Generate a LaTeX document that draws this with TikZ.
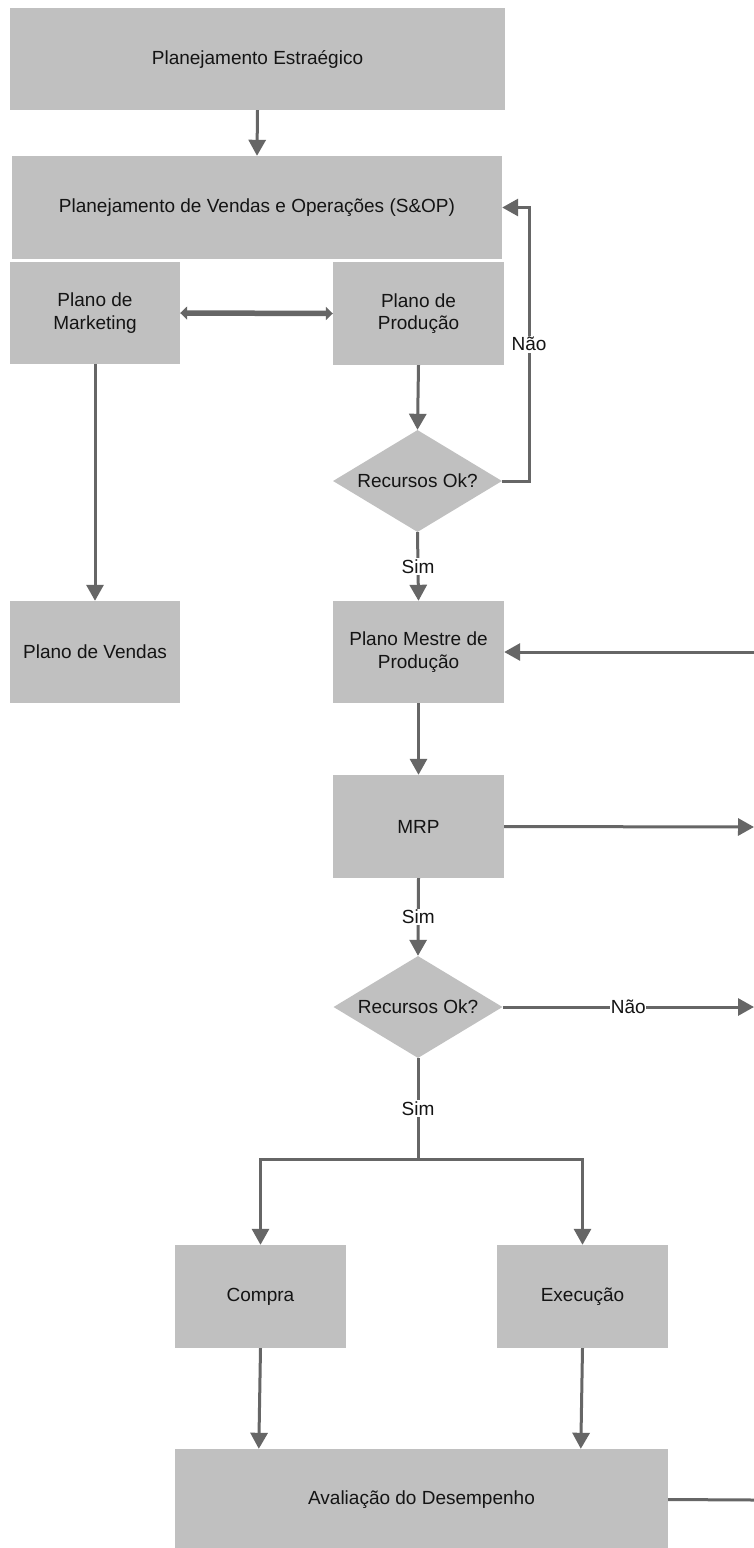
\documentclass[tikz,border=0pt]{standalone}
\usepackage{fontspec}
\setmainfont{Liberation Sans}
\usetikzlibrary{arrows.meta,shapes.geometric,calc}
\definecolor{boxgray}{HTML}{C0C0C0}
\definecolor{linegray}{HTML}{666666}
\definecolor{ink}{HTML}{141414}
\tikzset{
  stepbox/.style={rectangle, fill=boxgray, draw=none, inner sep=0pt, align=center,
    text=ink, font=\fontsize{19}{22.5}\selectfont},
  decision/.style={diamond, fill=boxgray, draw=none, inner sep=0pt, aspect=1.657,
    minimum width=169pt, minimum height=102pt, text=ink, font=\fontsize{19}{22}\selectfont},
  flow/.style={draw=linegray, line width=3pt, -{Triangle[length=16pt,width=17pt]}},
  plain/.style={draw=linegray, line width=3pt},
  both/.style={draw=linegray, line width=5.5pt,
    {Triangle[length=7pt,width=13pt]}-{Triangle[length=7pt,width=13pt]}},
  tag/.style={fill=white, inner sep=1.5pt, text=ink, font=\fontsize{19}{22}\selectfont}
}
\begin{document}
\begin{tikzpicture}[x=1pt,y=-1pt]
  \useasboundingbox (0,0) rectangle (754,1548);
  \fill[white] (0,0) rectangle (754,1548);

  % process steps
  \node[stepbox, minimum width=495pt, minimum height=102pt] (estr) at (257.5,59) {Planejamento Estraégico};
  \node[stepbox, minimum width=490pt, minimum height=103pt] (sop) at (257,207.5) {Planejamento de Vendas e Operações (S\&OP)};
  \node[stepbox, minimum width=170pt, minimum height=102pt] (mkt) at (95,313) {Plano de\\Marketing};
  \node[stepbox, minimum width=171pt, minimum height=103pt] (prod) at (418.5,313.5) {Plano de\\Produção};
  \node[decision] (rec1) at (417.5,481) {Recursos Ok?};
  \node[stepbox, minimum width=170pt, minimum height=102pt] (vendas) at (95,652) {Plano de Vendas};
  \node[stepbox, minimum width=171pt, minimum height=102pt] (mestre) at (418.5,652) {Plano Mestre de\\Produção};
  \node[stepbox, minimum width=171pt, minimum height=103pt] (mrp) at (418.5,826.5) {MRP};
  \node[decision] (rec2) at (418,1007) {Recursos Ok?};
  \node[stepbox, minimum width=171pt, minimum height=103pt] (compra) at (260.5,1296.5) {Compra};
  \node[stepbox, minimum width=171pt, minimum height=103pt] (exec) at (582.5,1296.5) {Execução};
  \node[stepbox, minimum width=493pt, minimum height=101pt] (aval) at (421.5,1499.5) {Avaliação do Desempenho};

  % free ends at the right margin
  \coordinate (inMestre) at (754,652);
  \coordinate (outMrp) at (754,827);
  \coordinate (outRec) at (754,1007);
  \coordinate (outAval) at (754,1500);
  \coordinate (loopX) at (529,481);
  \coordinate (split) at (418,1159);

  % connectors
  \draw[flow] (estr.south) -- (sop.north);
  \draw[both] (mkt.east) -- (prod.west);
  \draw[flow] (prod.south) -- (rec1.north);
  \draw[flow] (rec1.east) -- (loopX) |- node[tag, pos=0.25] {Não} (sop.east);
  \draw[flow] (rec1.south) -- node[tag] {Sim} (mestre.north);
  \draw[flow] (mkt.south) -- (vendas.north);
  \draw[flow] (inMestre) -- (mestre.east);
  \draw[flow] (mestre.south) -- (mrp.north);
  \draw[flow] (mrp.east) -- (outMrp);
  \draw[flow] (mrp.south) -- node[tag] {Sim} (rec2.north);
  \draw[flow] (rec2.east) -- node[tag, inner sep=0.5pt] {Não} (outRec);
  \draw[plain] (rec2.south) -- node[tag] {Sim} (split);
  \draw[flow] (split) -| (compra.north);
  \draw[flow] (split) -| (exec.north);
  \draw[flow] (compra.south) -- ($(aval.north west)+(84,0)$);
  \draw[flow] (exec.south) -- ($(aval.north west)+(406,0)$);
  \draw[plain] (aval.east) -- (outAval);
\end{tikzpicture}
\end{document}
